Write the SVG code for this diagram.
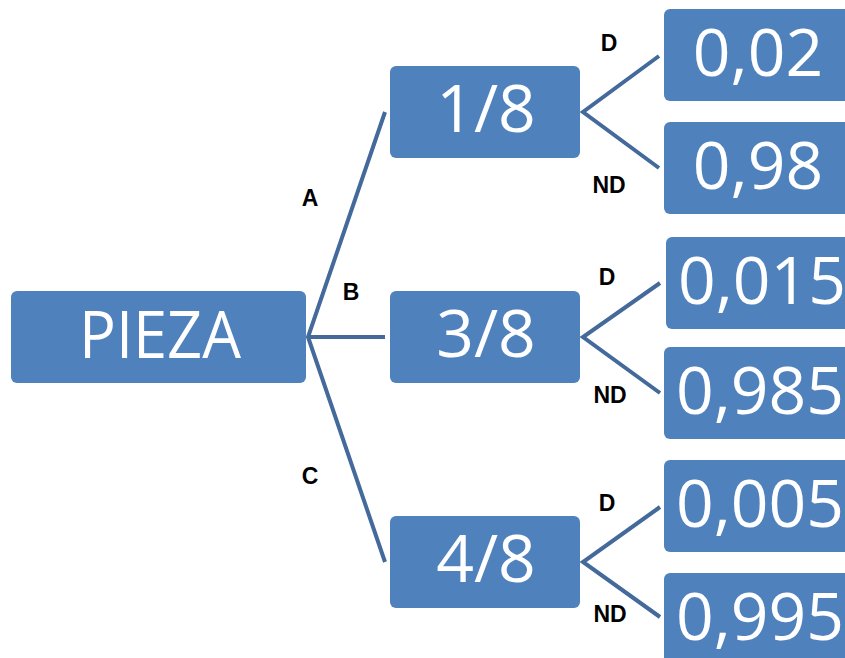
<svg xmlns="http://www.w3.org/2000/svg" width="845" height="658" viewBox="0 0 845 658">
<style>
.box{fill:#4F81BD;}
.t{fill:#FFFFFF;font-family:"Open Sans","Liberation Sans",sans-serif;font-size:66px;text-anchor:middle;}
.lab{fill:#000000;font-family:"Liberation Sans",Arial,sans-serif;font-weight:bold;font-size:23px;text-anchor:middle;}
.ln{stroke:#44699B;stroke-width:4;fill:none;stroke-linecap:butt;stroke-linejoin:miter;}
</style>
<rect width="845" height="658" fill="#FFFFFF"/>
<g id="connectors">
<polyline class="ln" points="385,112 308,337 385,562"/>
<line class="ln" x1="308" y1="337" x2="385" y2="337"/>
<polyline class="ln" points="659,56 583,112 659,168"/>
<polyline class="ln" points="660,283 583,337 660,393"/>
<polyline class="ln" points="660,507 583,562 660,617"/>
<text class="lab" x="310" y="206">A</text>
<text class="lab" x="351" y="300">B</text>
<text class="lab" x="310" y="484">C</text>
<text class="lab" x="609" y="51">D</text>
<text class="lab" x="609" y="193">ND</text>
<text class="lab" x="607" y="285">D</text>
<text class="lab" x="610" y="403">ND</text>
<text class="lab" x="607" y="511">D</text>
<text class="lab" x="610" y="622">ND</text>
</g>
<g id="pieza"><rect class="box" x="11" y="291" width="295" height="92" rx="6"/><text class="t" x="160" y="358" textLength="162" lengthAdjust="spacingAndGlyphs">PIEZA</text></g>
<g id="n18"><rect class="box" x="390" y="66" width="190" height="92" rx="6"/><text class="t" x="486" y="132">1/8</text></g>
<g id="n38"><rect class="box" x="390" y="291" width="190" height="92" rx="6"/><text class="t" x="486" y="357">3/8</text></g>
<g id="n48"><rect class="box" x="390" y="516" width="190" height="92" rx="6"/><text class="t" x="486" y="582">4/8</text></g>
<g id="p002"><rect class="box" x="664" y="9" width="190" height="92" rx="6"/><text class="t" x="758" y="76">0,02</text></g>
<g id="p098"><rect class="box" x="664" y="122" width="190" height="92" rx="6"/><text class="t" x="758" y="189">0,98</text></g>
<g id="p0015"><rect class="box" x="666" y="237" width="190" height="92" rx="6"/><text class="t" x="762" y="304">0,015</text></g>
<g id="p0985"><rect class="box" x="664" y="347" width="190" height="92" rx="6"/><text class="t" x="760" y="414">0,985</text></g>
<g id="p0005"><rect class="box" x="664" y="460" width="190" height="92" rx="6"/><text class="t" x="760" y="527">0,005</text></g>
<g id="p0995"><rect class="box" x="664" y="573" width="190" height="92" rx="6"/><text class="t" x="760" y="640">0,995</text></g>
</svg>
